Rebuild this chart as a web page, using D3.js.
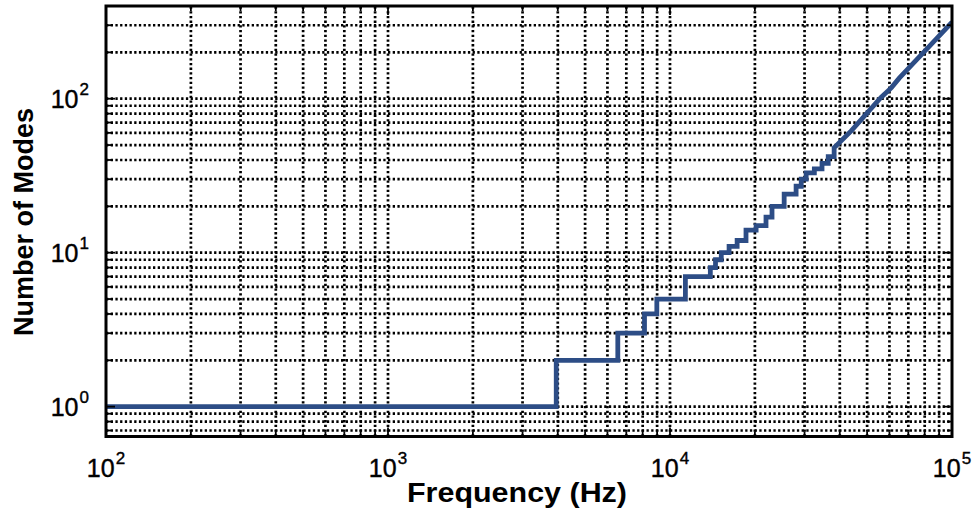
<!DOCTYPE html>
<html><head><meta charset="utf-8">
<script src="https://cdn.jsdelivr.net/npm/d3@7/dist/d3.min.js"></script>
<style>body{margin:0;background:#fff}svg{display:block}</style>
</head><body>
<svg id="c" width="977" height="514"></svg>
<script>
// ---- data ----
const stepFreq  = [100, 3950, 6530, 8120, 8980, 11340, 13900, 14500, 15200, 16200, 17300, 18600, 20200, 21900, 23000, 25400, 28000, 29200, 30400, 32500, 34600, 36400];
const stepModes = [1,   2,    3,    4,    5,    7,     8,     9,     10,    11,    12,    14,    15,    17,    20,    24,    27,    30,    33,    35,    38,    42];
const traceFreq  = [38200, 44000, 56000, 61000, 65000, 85000, 100000];
const traceModes = [48,    62,    102,   118,   136,   229,   314];
const xTickValues = [1e2, 1e3, 1e4, 1e5];
const xTickExponents = ["2", "3", "4", "5"];
const yTickValues = [1, 10, 100];
const yTickExponents = ["0", "1", "2"];
const xTitle = "Frequency (Hz)";
const yTitle = "Number of Modes";

// ---- layout ----
const m = {l: 106, r: 952, t: 6, b: 436.5};
const x = d3.scaleLog().domain([100, 1e5]).range([m.l, m.r]);
const y = d3.scaleLog().domain([0.64, 400]).range([m.b, m.t]);
const svg = d3.select("#c");
const font = "'Liberation Sans', Arial, Helvetica, sans-serif";

// grid values (major + minor)
const xGrid = [];
for (let d = 2; d <= 4; d++) for (let k = 1; k <= 9; k++) xGrid.push(k * Math.pow(10, d));
xGrid.push(1e5);
const yGrid = [];
for (let d = -1; d <= 2; d++) for (let k = 1; k <= 9; k++) {
  const v = +(k * Math.pow(10, d)).toPrecision(6);
  if (v >= 0.64 && v <= 400) yGrid.push(v);
}

const grid = svg.append("g").attr("stroke", "#000").attr("stroke-width", 2.7)
  .attr("stroke-dasharray", "2.3 2.4");
grid.selectAll("line.gx").data(xGrid.filter(v => v > 100 && v < 1e5)).enter().append("line")
  .attr("x1", d => x(d)).attr("x2", d => x(d)).attr("y1", m.b).attr("y2", m.t);
grid.selectAll("line.gy").data(yGrid.filter(v => y(v) > m.t + 1 && y(v) < m.b - 1)).enter().append("line")
  .attr("y1", d => y(d)).attr("y2", d => y(d)).attr("x1", m.l).attr("x2", m.r);

// data line
svg.append("clipPath").attr("id", "clip").append("rect")
  .attr("x", m.l).attr("y", m.t).attr("width", m.r - m.l).attr("height", m.b - m.t);
const pts = [];
stepFreq.forEach((f, i) => {
  pts.push([f, stepModes[i]]);
  const next = i + 1 < stepFreq.length ? stepFreq[i + 1] : traceFreq[0];
  pts.push([next, stepModes[i]]);
});
traceFreq.forEach((f, i) => pts.push([f, traceModes[i]]));
svg.append("path").attr("clip-path", "url(#clip)")
  .attr("d", d3.line().x(d => x(d[0])).y(d => y(d[1]))(pts))
  .attr("fill", "none").attr("stroke", "#2d4d86").attr("stroke-width", 4.8)
  .attr("stroke-linejoin", "miter");

// ticks (inward, all four sides)
const tk = svg.append("g").attr("stroke", "#000").attr("stroke-width", 1.8);
xGrid.forEach(v => {
  const len = xTickValues.includes(v) ? 9 : 5;
  tk.append("line").attr("x1", x(v)).attr("x2", x(v)).attr("y1", m.b).attr("y2", m.b - len);
  tk.append("line").attr("x1", x(v)).attr("x2", x(v)).attr("y1", m.t).attr("y2", m.t + len);
});
yGrid.forEach(v => {
  const len = yTickValues.includes(v) ? 9 : 5;
  tk.append("line").attr("y1", y(v)).attr("y2", y(v)).attr("x1", m.l).attr("x2", m.l + len);
  tk.append("line").attr("y1", y(v)).attr("y2", y(v)).attr("x1", m.r).attr("x2", m.r - len);
});

// frame
svg.append("rect").attr("x", m.l).attr("y", m.t).attr("width", m.r - m.l).attr("height", m.b - m.t)
  .attr("fill", "none").attr("stroke", "#000").attr("stroke-width", 3);

// tick labels
xTickValues.forEach((v, i) => {
  const t = svg.append("text").attr("x", x(v)).attr("y", 477).attr("text-anchor", "middle")
    .attr("font-family", font).attr("font-size", 25).attr("fill", "#000")
    .attr("stroke", "#000").attr("stroke-width", 0.4);
  t.append("tspan").text("10");
  t.append("tspan").attr("dy", -13).attr("dx", 1).attr("font-size", 17).text(xTickExponents[i]);
});
yTickValues.forEach((v, i) => {
  const t = svg.append("text").attr("x", 89).attr("y", y(v) + 9).attr("text-anchor", "end")
    .attr("font-family", font).attr("font-size", 25).attr("fill", "#000")
    .attr("stroke", "#000").attr("stroke-width", 0.4);
  t.append("tspan").text("10");
  t.append("tspan").attr("dy", -13).attr("dx", 1).attr("font-size", 17).text(yTickExponents[i]);
});

// axis titles
svg.append("text").attr("x", 517).attr("y", 502).attr("text-anchor", "middle")
  .attr("font-family", font).attr("font-weight", "bold").attr("font-size", 27).attr("fill", "#000")
  .attr("textLength", 220).attr("lengthAdjust", "spacingAndGlyphs")
  .text(xTitle);
svg.append("text").attr("transform", "translate(33,222) rotate(-90)").attr("text-anchor", "middle")
  .attr("font-family", font).attr("font-weight", "bold").attr("font-size", 27).attr("fill", "#000")
  .text(yTitle);
</script>
</body></html>
